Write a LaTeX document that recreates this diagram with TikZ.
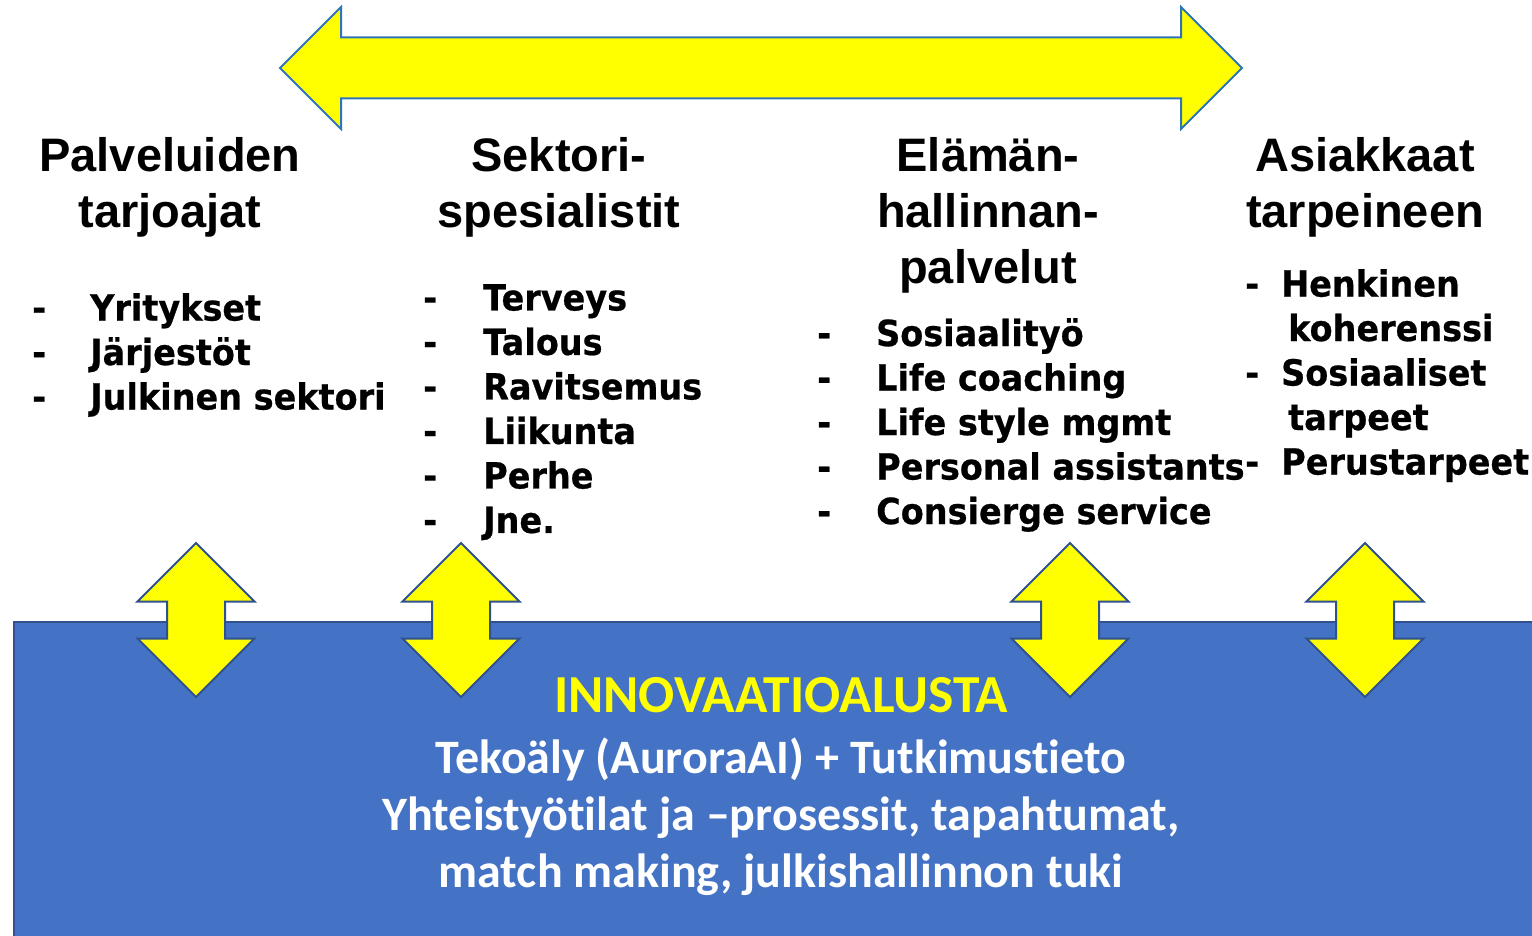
\documentclass[tikz,border=0pt]{standalone}
\usepackage{fontspec}
\setmainfont{Liberation Sans}
\newfontfamily\listfont{DejaVu Sans}[FakeStretch=0.93,FakeBold=0.6]
\newfontfamily\boxfont{Carlito}[Ligatures=NoCommon]
\usetikzlibrary{shapes.arrows}
\definecolor{arrowyellow}{HTML}{FFFF00}
\definecolor{linkblue}{HTML}{2E75B6}
\definecolor{edgeblue}{HTML}{2F528F}
\definecolor{boxblue}{HTML}{4472C4}
\newcommand{\listrow}[2][58pt]{\makebox[#1][l]{-}#2}
\begin{document}
\begin{tikzpicture}[x=1pt,y=-1pt,
    heading/.style={align=center,inner sep=0pt,anchor=north,font=\fontsize{47}{56}\selectfont\bfseries},
    items/.style={align=left,inner sep=0pt,anchor=north west,font=\listfont\fontsize{36}{44.5}\selectfont\bfseries},
    linkarrow/.style={double arrow,draw=linkblue,line width=2pt,fill=arrowyellow,inner xsep=0pt,inner ysep=29.5pt,
        double arrow head extend=30.5pt,double arrow tip angle=90,minimum height=962pt},
    updown/.style={double arrow,draw=edgeblue,line width=2pt,fill=arrowyellow,inner xsep=0pt,inner ysep=28pt,
        double arrow head extend=29.5pt,double arrow tip angle=90,minimum height=154pt,rotate=90}]
    \useasboundingbox (0,0) rectangle (1532,936);
    \node[draw=edgeblue,line width=2pt,fill=boxblue,minimum width=1530pt,minimum height=330pt,inner sep=0pt,anchor=north west] (base) at (13,621) {};
    \node[inner sep=0pt,anchor=north,text=arrowyellow,font=\boxfont\fontsize{53.5}{58}\selectfont\bfseries] (title) at (781,677) {INNOVAATIOALUSTA};
    \node[align=center,inner sep=0pt,anchor=north,text=white,font=\boxfont\fontsize{48}{57}\selectfont\bfseries] (platform) at (781,738)
        {Tekoäly (AuroraAI) + Tutkimustieto\\Yhteistyötilat ja –prosessit, tapahtumat,\\match making, julkishallinnon tuki};
    \node[linkarrow] (link) at (761,68) {};
    \node[heading] (a) at (170,137) {Palveluiden\\tarjoajat};
    \node[heading] (b) at (559,137) {Sektori-\\spesialistit};
    \node[heading] (c) at (988,137) {Elämän-\\hallinnan-\\palvelut};
    \node[heading] (d) at (1365,137) {Asiakkaat\\tarpeineen};
    \node[items] (a list) at (32,293) {\listrow{Yritykset}\\\listrow{Järjestöt}\\\listrow{Julkinen sektori}};
    \node[items] (b list) at (423,284) {\listrow[60pt]{Terveys}\\\listrow[60pt]{Talous}\\\listrow[60pt]{Ravitsemus}\\\listrow[60pt]{Liikunta}\\\listrow[60pt]{Perhe}\\\listrow[60pt]{Jne.}};
    \node[items] (c list) at (817,318) {\listrow[59pt]{Sosiaalityö}\\\listrow[59pt]{Life coaching}\\\listrow[59pt]{Life style mgmt}\\\listrow[59pt]{Personal assistants}\\\listrow[59pt]{Consierge service}};
    \node[items] (d list) at (1245,269) {\listrow[36pt]{Henkinen}\\\hspace*{43pt}koherenssi\\\listrow[36pt]{Sosiaaliset}\\\hspace*{43pt}tarpeet\\\listrow[36pt]{Perustarpeet}};
    \node[updown] (a link) at (196,620) {};
    \node[updown] (b link) at (461,620) {};
    \node[updown] (c link) at (1070,620) {};
    \node[updown] (d link) at (1365,620) {};
\end{tikzpicture}
\end{document}
